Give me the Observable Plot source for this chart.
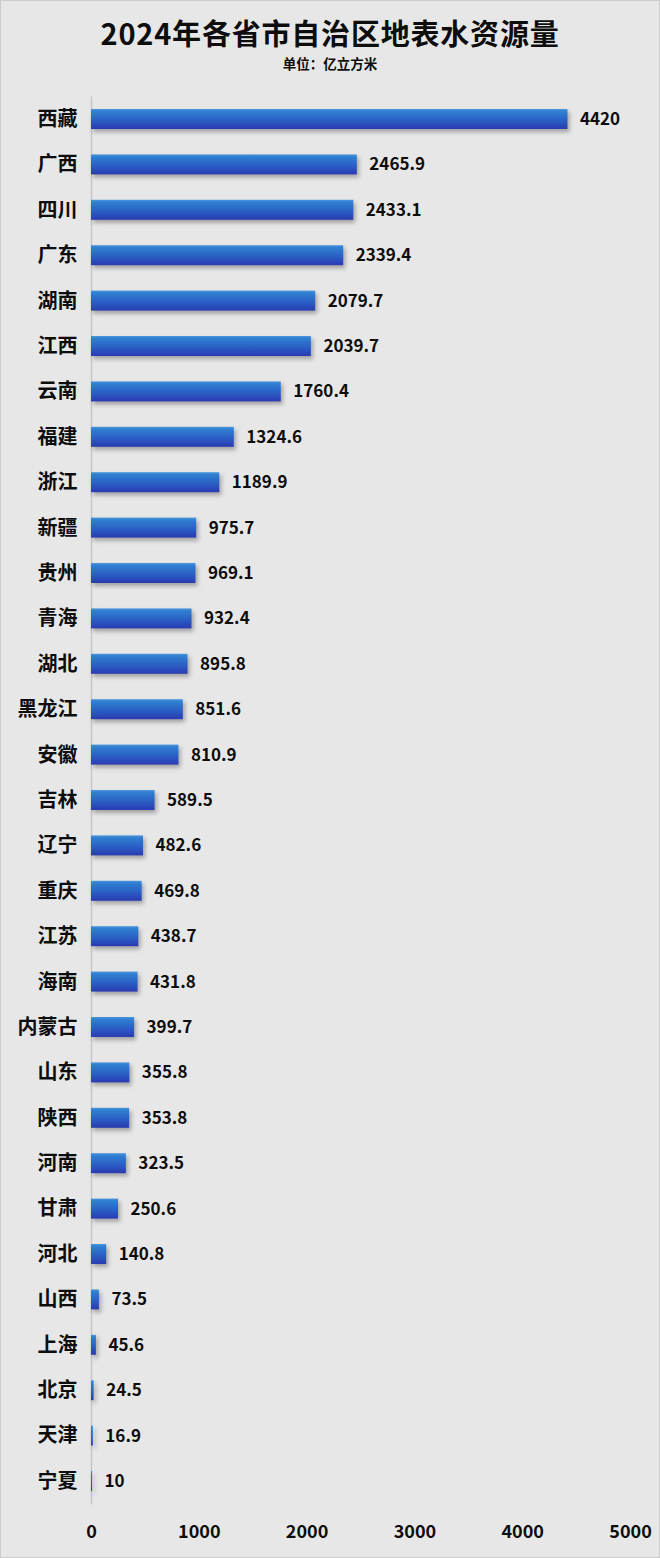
<!DOCTYPE html>
<html><head><meta charset="utf-8">
<script src="https://cdn.jsdelivr.net/npm/d3@7"></script>
<script src="https://cdn.jsdelivr.net/npm/@observablehq/plot@0.6"></script>
<style>
html,body{margin:0;padding:0;background:#e7e7e7;}
#wrap{position:relative;width:660px;height:1558px;box-sizing:border-box;box-shadow:inset 0 0 0 1px #cccccc;font-family:"Noto Sans CJK SC","Microsoft YaHei",sans-serif;color:#0d0d0d;overflow:hidden;}
#head{position:relative;height:80px;}
#title{position:absolute;left:0;right:0;top:14px;height:36px;text-align:center;font-size:29px;font-weight:bold;line-height:36px;letter-spacing:0.8px;white-space:nowrap;}
#sub{position:absolute;left:0;right:0;top:54px;height:18px;text-align:center;font-size:13.5px;font-weight:bold;line-height:18px;white-space:nowrap;}
#chart svg{display:block;}
#chart g[aria-label="bar"]{filter:drop-shadow(2px 3px 2px rgba(0,0,0,0.3));}
</style></head>
<body>
<div id="wrap">
<div id="head">
<div id="title">2024年各省市自治区地表水资源量</div>
<div id="sub">单位：亿立方米</div>
</div>
<div id="chart"></div>
</div>
<script>
const provinces = ["西藏","广西","四川","广东","湖南","江西","云南","福建","浙江","新疆","贵州","青海","湖北","黑龙江","安徽","吉林","辽宁","重庆","江苏","海南","内蒙古","山东","陕西","河南","甘肃","河北","山西","上海","北京","天津","宁夏"];
const values = [4420,2465.9,2433.1,2339.4,2079.7,2039.7,1760.4,1324.6,1189.9,975.7,969.1,932.4,895.8,851.6,810.9,589.5,482.6,469.8,438.7,431.8,399.7,355.8,353.8,323.5,250.6,140.8,73.5,45.6,24.5,16.9,10];
const xTicks = [0,1000,2000,3000,4000,5000];

const data = provinces.map((p, i) => ({province: p, value: values[i]}));
const font = '"Noto Sans CJK SC","Microsoft YaHei",sans-serif';

const defs = () => {
  const d = d3.create("svg:defs");
  const g = d.append("linearGradient").attr("id", "barGrad")
    .attr("x1", 0).attr("y1", 0).attr("x2", 0).attr("y2", 1);
  [[0, "#4a94dc"], [0.12, "#2f7fd2"], [0.55, "#2a60c5"], [1, "#2a3ab2"]]
    .forEach(([o, c]) => g.append("stop").attr("offset", o).attr("stop-color", c));
  return d.node();
};

const chart = Plot.plot({
  width: 660,
  height: 1478,
  marginTop: 3.6,
  marginBottom: 41.6,
  marginLeft: 91,
  marginRight: 30,
  style: {background: "transparent", fontFamily: font, color: "#0d0d0d", overflow: "visible"},
  x: {domain: [0, 5000], axis: null},
  y: {domain: provinces, padding: 0.56, round: false, axis: null},
  marks: [
    defs,
    Plot.ruleX([0], {stroke: "#c6c6c6", strokeWidth: 1.5, insetTop: 13, insetBottom: 12}),
    Plot.barX(data, {x: "value", y: "province", fill: "url(#barGrad)"}),
    Plot.text(data, {x: "value", y: "province", text: d => String(d.value), textAnchor: "start", dx: 12, fontSize: 17, fontWeight: "bold", fill: "#0d0d0d"}),
    Plot.axisY({tickSize: 0, tickPadding: 14, fontSize: 20, fontWeight: "bold", label: null}),
    Plot.axisX({ticks: xTicks, tickSize: 0, tickPadding: 8, fontSize: 18, fontWeight: "bold", label: null, tickFormat: d => String(d)})
  ]
});
document.getElementById("chart").appendChild(chart);
</script>
</body></html>
